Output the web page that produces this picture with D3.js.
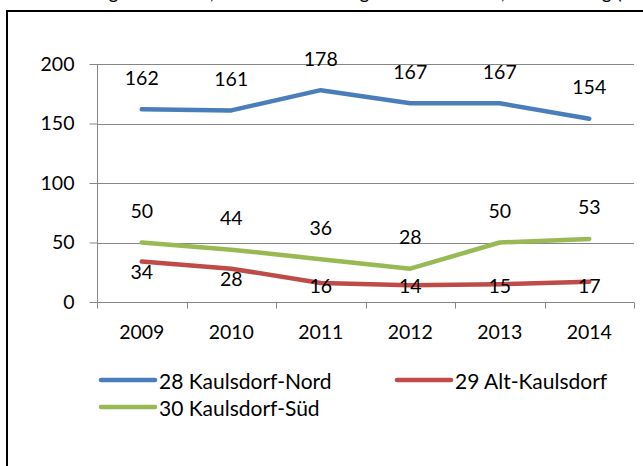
<!DOCTYPE html>
<html>
<head>
<meta charset="utf-8">
<script src="https://cdn.jsdelivr.net/npm/d3@7/dist/d3.min.js"></script>
<style>
  body { margin: 0; background: #fff; }
  svg { display: block; }
  text { font-family: Lato, "Open Sans", sans-serif; fill: #000; }
</style>
</head>
<body>
<svg id="chart" width="643" height="466"></svg>
<script>
// Jahre und Werte je Bezirksregion
const years = ["2009", "2010", "2011", "2012", "2013", "2014"];
const kaulsdorfNord = [162, 161, 178, 167, 167, 154];
const altKaulsdorf = [34, 28, 16, 14, 15, 17];
const kaulsdorfSued = [50, 44, 36, 28, 50, 53];
const seriesNames = ["28 Kaulsdorf-Nord", "29 Alt-Kaulsdorf", "30 Kaulsdorf-Süd"];
const yTicks = [0, 50, 100, 150, 200];
const titleText = "Wohnungseinbrüche, Tatorte Bezirksregionen Kaulsdorf, Entwicklung (Anzahl)";

const series = [
  { name: seriesNames[0], values: kaulsdorfNord, color: "#4A7EBB", label: "above" },
  { name: seriesNames[1], values: altKaulsdorf, color: "#BE4B48", label: "below" },
  { name: seriesNames[2], values: kaulsdorfSued, color: "#98B954", label: "above" }
];

const svg = d3.select("#chart");

// Titel (liegt über dem oberen Rand, nur Unterlängen sichtbar) und Rahmen
svg.append("text")
  .attr("x", 360).attr("y", -1)
  .attr("text-anchor", "middle")
  .style("font-size", "19px")
  .text(titleText);

svg.append("rect")
  .attr("x", 7).attr("y", 11)
  .attr("width", 700).attr("height", 500)
  .attr("fill", "none")
  .attr("stroke", "#000")
  .attr("stroke-width", 2);

const plot = { left: 97, right: 634, top: 64, bottom: 302 };

const x = d3.scaleBand().domain(years).range([plot.left, plot.right]);
const y = d3.scaleLinear().domain([0, 200]).range([plot.bottom, plot.top]);

const gridColor = "#868686";

// Horizontale Gitterlinien
svg.append("g")
  .selectAll("line")
  .data(yTicks.filter(t => t > 0))
  .join("line")
  .attr("x1", plot.left).attr("x2", plot.right)
  .attr("y1", d => Math.round(y(d)) + 0.5).attr("y2", d => Math.round(y(d)) + 0.5)
  .attr("stroke", gridColor).attr("stroke-width", 1);

// Y-Achse
const yAxis = svg.append("g")
  .attr("transform", `translate(${plot.left + 0.5},0)`)
  .call(d3.axisLeft(y).tickValues(yTicks).tickSize(8).tickPadding(15).tickFormat(d3.format("d")));
yAxis.selectAll("path, line").attr("stroke", gridColor);
yAxis.select(".domain").attr("d", `M0,${plot.top}V${plot.bottom}`);
yAxis.selectAll("text").style("font-size", "19.5px").attr("fill", "#000");

// X-Achse mit Teilstrichen zwischen den Kategorien
const xAxisG = svg.append("g")
  .attr("transform", `translate(0,${Math.round(plot.bottom) + 0.5})`);
xAxisG.append("line")
  .attr("x1", plot.left).attr("x2", plot.right)
  .attr("stroke", gridColor);
const boundaries = years.map(d => x(d)).concat([x(years[years.length - 1]) + x.bandwidth()]);
xAxisG.selectAll("line.tick")
  .data(boundaries)
  .join("line")
  .attr("class", "tick")
  .attr("x1", d => Math.round(d) + 0.5).attr("x2", d => Math.round(d) + 0.5)
  .attr("y1", 0).attr("y2", 6)
  .attr("stroke", gridColor);
xAxisG.selectAll("text")
  .data(years)
  .join("text")
  .attr("x", d => x(d) + x.bandwidth() / 2)
  .attr("y", 29)
  .attr("text-anchor", "middle")
  .attr("dominant-baseline", "central")
  .style("font-size", "19.5px")
  .text(d => d);

// Linien
const line = d3.line()
  .x((d, i) => x(years[i]) + x.bandwidth() / 2)
  .y(d => y(d));

svg.append("g")
  .selectAll("path")
  .data(series)
  .join("path")
  .attr("d", s => line(s.values))
  .attr("fill", "none")
  .attr("stroke", s => s.color)
  .attr("stroke-width", 4.5)
  .attr("stroke-linejoin", "round")
  .attr("stroke-linecap", "round");

// Datenbeschriftungen
series.forEach(s => {
  svg.append("g")
    .selectAll("text")
    .data(s.values)
    .join("text")
    .attr("x", (d, i) => x(years[i]) + x.bandwidth() / 2)
    .attr("y", d => s.label === "above" ? y(d) - 32 : Math.min(y(d) + 10, plot.bottom - 17))
    .attr("text-anchor", "middle")
    .attr("dominant-baseline", "central")
    .style("font-size", "19.5px")
    .text(d => d);
});

// Legende
const legendPos = [
  { lx: 101, ly: 380 },
  { lx: 397, ly: 380 },
  { lx: 101, ly: 407 }
];
const legend = svg.append("g");
series.forEach((s, i) => {
  const p = legendPos[i];
  legend.append("line")
    .attr("x1", p.lx).attr("x2", p.lx + 54)
    .attr("y1", p.ly).attr("y2", p.ly)
    .attr("stroke", s.color).attr("stroke-width", 4.5)
    .attr("stroke-linecap", "round");
  legend.append("text")
    .attr("x", p.lx + 58).attr("y", p.ly)
    .attr("dominant-baseline", "central")
    .style("font-size", "21px")
    .text(s.name);
});
</script>
</body>
</html>
